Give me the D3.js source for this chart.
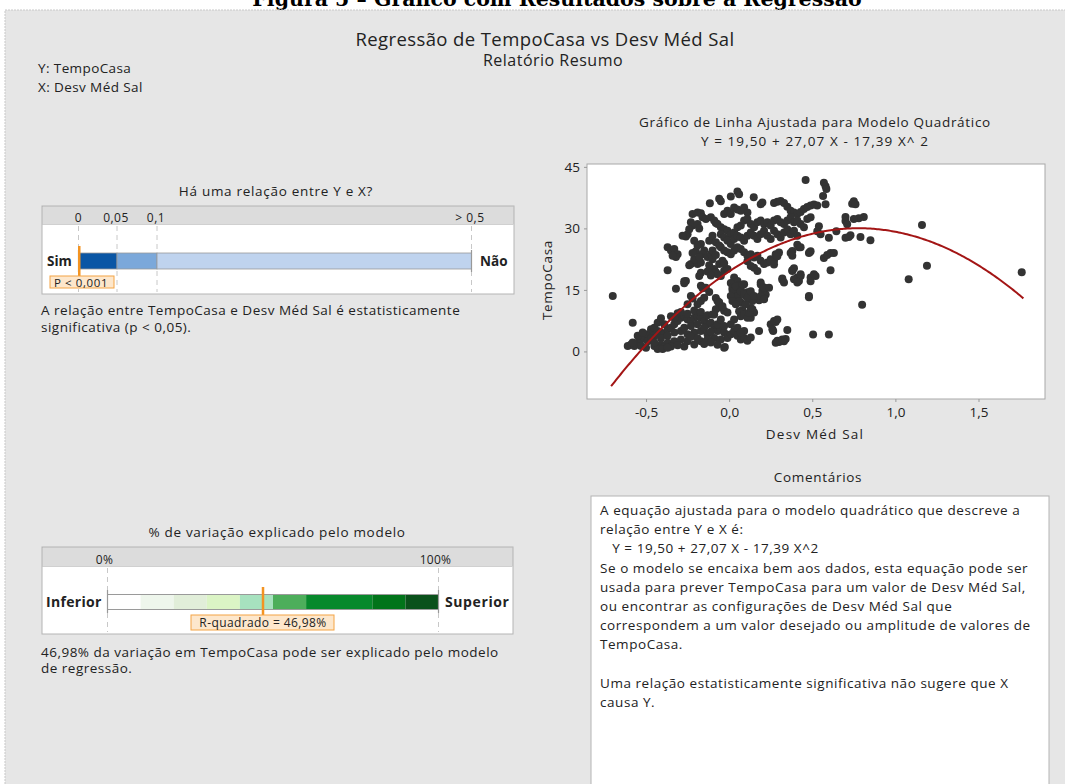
<!DOCTYPE html>
<html><head><meta charset="utf-8">
<script src="https://cdn.jsdelivr.net/npm/d3@7"></script>
<style>
body{margin:0;background:#fff;}
text{font-family:"Open Sans",sans-serif;fill:#222;}
</style></head>
<body><svg id="c" width="1065" height="784"></svg>
<script>
// ---------- data ----------
const caption = "Figura 5 – Gráfico com Resultados sobre a Regressão";
const mainTitle = "Regressão de TempoCasa vs Desv Méd Sal";
const subTitle = "Relatório Resumo";
const varLabels = ["Y: TempoCasa", "X: Desv Méd Sal"];

const pBreaks = [0, 0.05, 0.1, 0.5];
const pTickLabels = ["0", "0,05", "0,1", "> 0,5"];
const pColors = ["#0a56a5", "#7ba8da", "#bfd3ee"];
const pValue = 0.001;
const pLabel = "P < 0,001";
const pText = ["A relação entre TempoCasa e Desv Méd Sal é estatisticamente", "significativa (p < 0,05)."];

const r2Breaks = [0, 10, 20, 30, 40, 50, 60, 80, 90, 100];
const r2Colors = ["#ffffff", "#eef6ec", "#e1eed9", "#dbf4c5", "#a7e2bf", "#4dae5b", "#07892c", "#01741a", "#0a511b"];
const r2TickLabels = ["0%", "100%"];
const r2Value = 46.98;
const r2Label = "R-quadrado =  46,98%";
const r2Text = ["46,98% da variação em TempoCasa pode ser explicado pelo modelo", "de regressão."];

const coef = [19.50, 27.07, -17.39];
const fitRange = [-0.71, 1.77];
const xTicks = [-0.5, 0, 0.5, 1.0, 1.5];
const yTicks = [0, 15, 30, 45];
const xDomain = [-0.855, 1.90];
const yDomain = [-11.6, 45.7];

const pointsX = [];
const pointsY = [];
const pts = [
[-0.70,13.5],[1.76,19.3],[1.16,30.8],[1.19,20.9],[1.08,17.6],[0.80,11.4],[0.85,27.1],[0.79,27.9],[0.81,32.8],[0.78,32.5],[0.75,32.3],[0.74,36.0],[0.75,36.6],[0.76,35.9],[0.70,31.8],[0.70,32.8],[0.71,31.0],[0.70,27.7],[0.73,28.3],[0.72,27.9],[0.645,29.3],[0.60,27.7],[0.61,19.8],[0.57,22.8],[0.59,23.5],[0.61,24.0],[0.63,24.0],[0.60,4.1],[0.505,4.1],[0.48,13.2],[0.52,18.4],[0.49,17.1],[0.485,24.2],[0.46,41.8],[0.57,41.1],[0.58,40.3],[0.585,39.6],[0.565,37.9],[0.58,35.9],[0.53,29.3],[0.55,28.6],[0.54,30.5],[0.35,5.2],[0.33,2.5],[0.30,2.3],[0.28,2.1],[0.265,5.0],[0.28,7.2],[0.18,5.0],[0.32,17.8],[0.38,19.6],[0.41,18.0],[0.43,18.4],[0.38,24.5],[0.42,25.4],[-0.026,1.1],[-0.58,7.0],[-0.37,19.8],[-0.32,15.3],[-0.27,17.1],
[0.05,39.0],[0.06,38.3],[0.01,37.8],[-0.06,37.2],[-0.05,36.6],[-0.116,36.1],[0.148,37.6],[0.19,35.9],[0.20,36.3],[0.27,36.2],[0.29,36.5],[0.31,36.7],[0.33,36.2],[0.35,35.3],[0.37,34.3],[0.39,33.9],[0.41,33.5],[0.43,34.0],[0.45,34.7],[0.47,35.2],[0.49,35.6],[0.51,35.8],[0.53,35.6],
[-0.22,33.5],[-0.19,33.9],[-0.17,33.7],[-0.16,32.7],[-0.14,32.3],[-0.11,32.7],[-0.09,31.9],[-0.08,31.3],
[-0.23,31.5],[-0.22,30.7],[-0.24,29.8],[-0.25,28.6],[-0.26,28.0],[-0.19,31.1],[-0.18,30.0],
[-0.03,33.5],[-0.01,34.3],[0.01,33.5],[0.03,35.1],[0.05,34.6],[0.07,34.3],[0.09,35.1],[0.11,33.9],
[-0.07,31.1],[-0.05,30.3],[-0.03,29.8],[-0.01,29.4],[0.01,28.6],[0.03,29.0],[0.05,30.3],[0.07,30.7],[0.09,31.9],[0.11,32.3],[0.13,31.1],[0.15,30.3],[0.17,31.5],[0.19,31.9],[0.21,31.1],[0.23,31.5],[0.25,30.7],[0.27,31.9],[0.29,32.3],[0.31,31.5],[0.33,31.1],[0.35,31.9],[0.37,32.7],[0.39,31.5],[0.41,31.9],[0.43,31.1],[0.45,30.3],[0.47,32.3],[0.49,32.7],
[-0.05,28.6],[-0.03,27.8],[-0.01,27.0],[0.01,26.2],[0.03,27.4],[0.05,28.2],[0.07,27.8],[0.09,27.0],[0.11,28.2],[0.13,29.0],[0.15,28.2],[0.17,27.4],[0.19,28.6],[0.21,29.4],[0.23,28.2],[0.25,27.4],[0.27,29.4],[0.29,28.6],[0.31,27.8],[0.33,29.0],[0.35,29.8],[0.37,28.6],[0.39,29.4],[0.41,28.2],
[-0.37,25.4],[-0.35,24.6],[-0.33,25.0],[-0.31,23.7],[-0.32,23.0],[-0.34,23.3],[-0.28,28.2],
[-0.17,26.2],[-0.15,24.6],[-0.16,23.7],[-0.13,23.0],[-0.11,23.7],[-0.10,24.6],
[-0.05,25.4],[-0.03,24.6],[-0.01,24.2],[0.01,23.7],[0.03,24.6],[0.05,25.4],[0.07,25.0],[0.09,24.2],[0.11,23.3],[0.13,23.7],[0.15,22.9],[0.17,23.3],[0.19,22.1],[0.21,21.3],[0.23,21.7],[0.25,22.5],[0.27,22.1],[0.28,23.7],
[-0.23,21.3],[-0.19,21.3],[-0.17,21.7],[-0.21,22.5],[-0.24,21.0],
[-0.09,20.1],[-0.08,19.3],[-0.07,18.8],[-0.05,18.4],[-0.03,19.7],[-0.01,20.1],[-0.17,19.2],[-0.18,18.4],[-0.06,21.3],[-0.04,22.1],
[0.03,18.0],[0.05,17.2],[0.06,16.2],[0.04,15.6],[0.02,15.0],[0.07,15.2],[0.09,16.4],[0.11,14.4],[0.10,13.5],[0.12,12.7],[0.08,14.0],[0.05,13.3],
[0.19,16.8],[0.21,15.6],[0.20,14.8],[0.22,13.9],[0.21,12.9],[0.18,12.5],
[-0.26,17.2],[-0.27,16.6],[-0.17,16.0],[-0.16,15.4],[-0.23,13.5],[-0.22,12.9],[-0.25,11.5],[-0.19,11.5],[-0.17,12.3],[-0.15,13.1],
[-0.07,12.3],[-0.06,11.5],[-0.05,10.7],[-0.03,9.9],[-0.01,9.5],[-0.08,10.3],
[0.07,11.9],[0.08,10.1],[0.09,9.1],[0.11,8.6],[0.13,8.2],[0.15,9.5],[0.14,10.3],
[0.25,6.6],[0.27,7.4],[0.26,5.4],[0.29,7.8],[0.29,2.6],[0.31,2.6],[0.32,2.9],[0.34,3.0],
[0.39,17.6],[0.42,17.2],[0.43,18.8],[0.41,16.8],[0.32,17.5],[0.33,16.8],[0.38,19.8],[0.39,20.3],[0.49,18.0],[0.51,18.8],[0.48,13.5],[0.48,24.0],[0.49,24.4],[0.41,26.0],[0.43,25.4],[0.37,24.0],[0.38,23.3],[0.30,24.1],
[-0.61,1.3],[-0.59,1.7],[-0.57,1.3],[-0.55,2.1],[-0.53,2.9],[-0.51,3.3],[-0.49,4.2],[-0.47,5.4],[-0.45,5.8],[-0.43,5.0],[-0.41,4.6],[-0.39,4.2],[-0.37,5.4],[-0.35,5.8],[-0.33,6.6],[-0.31,7.4],[-0.29,8.2],[-0.27,8.6],[-0.25,7.8],[-0.23,7.4],[-0.21,8.2],[-0.19,8.6],[-0.17,8.2],[-0.15,7.4],[-0.13,6.6],[-0.11,7.0],[-0.09,5.8],[-0.07,5.0],[-0.05,5.4],[-0.03,4.6],[-0.01,3.3],[0.01,4.2],[0.03,5.0],[0.05,3.8],[0.07,2.9],[0.09,3.3],
[-0.53,1.3],[-0.49,2.5],[-0.45,3.8],[-0.41,3.3],[-0.37,3.8],[-0.33,4.6],[-0.29,5.0],[-0.25,4.2],[-0.21,4.6],[-0.17,5.0],[-0.13,4.2],[-0.09,3.3],[-0.05,2.9],
[-0.41,1.7],[-0.37,2.1],[-0.33,2.5],[-0.29,2.9],[-0.25,2.5],[-0.21,1.7],[-0.17,2.5],[-0.13,2.9],[-0.45,1.3],[-0.50,0.9],[-0.03,0.9],
[-0.43,0.6],[-0.39,1.0],[-0.35,1.2],[-0.31,1.5],[-0.27,1.2],[-0.23,3.6],[-0.19,3.2],[-0.15,1.8],[-0.11,2.2],[-0.07,1.6],[-0.39,6.6],[-0.43,7.0],[-0.41,8.1],[-0.35,8.6],[-0.31,9.3],[-0.27,5.8],[-0.23,6.2],[-0.19,6.6],[-0.15,5.8],[-0.11,4.8],[-0.07,6.6],[-0.03,6.2],[0.01,6.6],[0.05,5.8],[0.09,5.0],[-0.33,8.2],[-0.29,9.6],[-0.25,9.2],[-0.21,10.0],[-0.17,9.6],[-0.13,8.8],[-0.09,9.0],[-0.05,7.8],[0.03,7.8],[0.07,4.6],[0.11,2.6],[0.13,3.4],[-0.58,2.2],[-0.55,3.8],[-0.52,4.6],[-0.47,3.2],[-0.45,2.2],[-0.40,0.6],[-0.37,0.9],
[0.01,16.7],[0.02,15.5],[0.03,14.7],[0.04,15.9],[0.05,13.5],[0.06,12.3],[0.07,14.7],[0.08,16.3],[0.09,13.9],[0.01,13.5],[0.02,12.3],[0.04,11.5],[0.06,9.8],[0.07,8.6],[0.09,9.0],[0.11,8.2],[0.12,9.4],[0.13,10.6],[0.14,12.3],[0.10,11.5],[0.11,13.1],[0.13,14.7],[0.15,13.5],
[0.11,22.0],[0.13,20.8],[0.15,20.4],[0.17,19.6],[0.19,16.3],[0.21,15.5],[0.24,15.5],[0.19,13.5],[0.21,12.7],[0.25,22.0],[0.27,21.2],[0.29,23.2],
[-0.08,13.0],[-0.06,12.0],[-0.04,11.0],[-0.10,9.0],[-0.12,14.5],[-0.14,15.5],
[-0.12,27.0],[-0.10,28.2],[-0.08,26.6],[-0.06,25.8],[-0.10,22.5],[-0.12,21.0],[-0.08,23.5],[-0.03,21.5],[-0.13,19.5],[-0.11,18.5],
[-0.21,27.0],[-0.19,25.8],[-0.20,24.4],[-0.22,24.0],[-0.18,23.0]
];
pts.forEach(p => { pointsX.push(p[0]); pointsY.push(p[1]); });

const commentLines = [
 "A equação ajustada para o modelo quadrático que descreve a",
 "relação entre Y e X é:",
 "   Y = 19,50 + 27,07 X - 17,39 X^2",
 "Se o modelo se encaixa bem aos dados, esta equação pode ser",
 "usada para prever TempoCasa para um valor de Desv Méd Sal,",
 "ou encontrar as configurações de Desv Méd Sal que",
 "correspondem a um valor desejado ou amplitude de valores de",
 "TempoCasa.",
 "",
 "Uma relação estatisticamente significativa não sugere que X",
 "causa Y."
];

// ---------- drawing ----------
const svg = d3.select("#c");
const fmt = v => d3.format(".1f")(v).replace("−", "-").replace(".", ",");
const body = sel => sel.style("font-size", "13.5px").style("letter-spacing", "0.5px");

// caption (cut at top, as in the reference)
svg.append("text").attr("x", 557).attr("y", 6).attr("text-anchor", "middle")
  .style("font-family", "'DejaVu Serif',serif").style("font-weight", "bold").style("font-size", "20.5px")
  .style("fill", "#000").text(caption);

// gray panel
svg.append("rect").attr("x", 5).attr("y", 10).attr("width", 1070).attr("height", 790)
  .attr("fill", "#e6e6e6").attr("stroke", "#c8c8c8").attr("stroke-dasharray", "2,1");

svg.append("text").attr("x", 545).attr("y", 38).attr("text-anchor", "middle")
  .attr("dominant-baseline", "central").style("font-size", "18.5px").style("letter-spacing", "0.4px").text(mainTitle);
svg.append("text").attr("x", 553).attr("y", 60).attr("text-anchor", "middle")
  .attr("dominant-baseline", "central").style("font-size", "16px").style("letter-spacing", "0.5px").text(subTitle);
svg.selectAll(".vl").data(varLabels).join("text").attr("x", 38).attr("y", (d, i) => 68 + i * 19)
  .attr("dominant-baseline", "central").style("font-size", "13.5px").style("letter-spacing", "0.4px").text(d => d);

// ---------- P-value panel ----------
const pBox = {x: 42, y: 206, w: 472, h: 88, hh: 18};
const gp = svg.append("g");
gp.append("text").attr("x", 276).attr("y", 191).attr("text-anchor", "middle")
  .attr("dominant-baseline", "central").call(body).style("letter-spacing", "0.7px").text("Há uma relação entre Y e X?");
gp.append("rect").attr("x", pBox.x).attr("y", pBox.y).attr("width", pBox.w).attr("height", pBox.h)
  .attr("fill", "#fff").attr("stroke", "#b4b4b4");
gp.append("rect").attr("x", pBox.x + 0.5).attr("y", pBox.y + 0.5).attr("width", pBox.w - 1).attr("height", pBox.hh)
  .attr("fill", "#dcdcdc").attr("stroke", "#b4b4b4").attr("stroke-width", 0.5);
const px = d3.scaleLinear().domain(pBreaks).range([78.5, 117, 157, 471.5]);
gp.selectAll(".pg").data(pBreaks).join("line")
  .attr("x1", d => px(d)).attr("x2", d => px(d)).attr("y1", pBox.y + pBox.hh + 2).attr("y2", pBox.y + pBox.h - 2)
  .attr("stroke", "#c8c8c8").attr("stroke-dasharray", "5,4");
gp.selectAll(".pt").data(pBreaks).join("text")
  .attr("x", (d, i) => i === 3 ? px(d) + 13 : (i === 0 ? px(d) : px(d) - 1)).attr("y", 217.5)
  .attr("text-anchor", (d, i) => i === 3 ? "end" : "middle").attr("dominant-baseline", "central")
  .style("font-size", "12px").style("letter-spacing", "0.5px").text((d, i) => pTickLabels[i]);
const pSegs = d3.pairs(pBreaks);
gp.selectAll(".ps").data(pSegs).join("rect")
  .attr("x", d => px(d[0])).attr("width", d => px(d[1]) - px(d[0])).attr("y", 253).attr("height", 16)
  .attr("fill", (d, i) => pColors[i]).attr("stroke", "#9a9a9a").attr("stroke-width", 0.8);
[px(pBreaks[0]), px(pBreaks[3])].forEach(x => gp.append("line").attr("x1", x).attr("x2", x)
  .attr("y1", 250).attr("y2", 272).attr("stroke", "#999").attr("stroke-width", 1.2));
gp.append("text").attr("x", 47).attr("y", 261).attr("dominant-baseline", "central")
  .style("font-weight", "bold").style("font-size", "13.5px").text("Sim");
gp.append("text").attr("x", 480).attr("y", 261).attr("dominant-baseline", "central")
  .style("font-weight", "bold").style("font-size", "13.5px").text("Não");
gp.append("line").attr("x1", px(pValue)).attr("x2", px(pValue)).attr("y1", 246).attr("y2", 277)
  .attr("stroke", "#f39422").attr("stroke-width", 2.5);
gp.append("rect").attr("x", 50).attr("y", 276).attr("width", 64).attr("height", 12)
  .attr("fill", "#fde7cc").attr("stroke", "#f4a445").attr("stroke-width", 1);
gp.append("text").attr("x", 81).attr("y", 282.3).attr("text-anchor", "middle").attr("dominant-baseline", "central")
  .style("font-size", "11.5px").style("letter-spacing", "0.6px").text(pLabel);
gp.selectAll(".ptx").data(pText).join("text").attr("x", 41).attr("y", (d, i) => 310 + i * 17)
  .attr("dominant-baseline", "central").call(body).text(d => d);

// ---------- R-squared panel ----------
const rBox = {x: 42, y: 547, w: 471, h: 87, hh: 19};
const gr = svg.append("g");
gr.append("text").attr("x", 277).attr("y", 532).attr("text-anchor", "middle")
  .attr("dominant-baseline", "central").call(body).style("letter-spacing", "0.7px").text("% de variação explicado pelo modelo");
gr.append("rect").attr("x", rBox.x).attr("y", rBox.y).attr("width", rBox.w).attr("height", rBox.h)
  .attr("fill", "#fff").attr("stroke", "#b4b4b4");
gr.append("rect").attr("x", rBox.x + 0.5).attr("y", rBox.y + 0.5).attr("width", rBox.w - 1).attr("height", rBox.hh)
  .attr("fill", "#dcdcdc").attr("stroke", "#b4b4b4").attr("stroke-width", 0.5);
const rx = d3.scaleLinear().domain([0, 100]).range([107.5, 438.5]);
gr.selectAll(".rg").data([0, 100]).join("line")
  .attr("x1", d => rx(d)).attr("x2", d => rx(d)).attr("y1", rBox.y + rBox.hh + 2).attr("y2", rBox.y + rBox.h - 2)
  .attr("stroke", "#c8c8c8").attr("stroke-dasharray", "5,4");
gr.selectAll(".rt").data([0, 100]).join("text")
  .attr("x", d => rx(d) - 3).attr("y", 559.5).attr("text-anchor", "middle").attr("dominant-baseline", "central")
  .style("font-size", "12px").style("letter-spacing", "0.3px").text((d, i) => r2TickLabels[i]);
const rSegs = d3.pairs(r2Breaks);
gr.selectAll(".rs").data(rSegs).join("rect")
  .attr("x", d => rx(d[0])).attr("width", d => rx(d[1]) - rx(d[0])).attr("y", 595).attr("height", 14)
  .attr("fill", (d, i) => r2Colors[i]);
gr.append("rect").attr("x", rx(0)).attr("y", 594.5).attr("width", rx(100) - rx(0)).attr("height", 15)
  .attr("fill", "none").attr("stroke", "#9a9a9a").attr("stroke-width", 1);
[rx(0), rx(100)].forEach(x => gr.append("line").attr("x1", x).attr("x2", x)
  .attr("y1", 590).attr("y2", 613).attr("stroke", "#999").attr("stroke-width", 1.2));
gr.append("text").attr("x", 46).attr("y", 601).attr("dominant-baseline", "central")
  .style("font-weight", "bold").style("font-size", "14px").style("letter-spacing", "0.3px").text("Inferior");
gr.append("text").attr("x", 445).attr("y", 601).attr("dominant-baseline", "central")
  .style("font-weight", "bold").style("font-size", "14px").style("letter-spacing", "0.6px").text("Superior");
gr.append("line").attr("x1", rx(r2Value)).attr("x2", rx(r2Value)).attr("y1", 587).attr("y2", 616)
  .attr("stroke", "#f39422").attr("stroke-width", 2.5);
gr.append("rect").attr("x", 191).attr("y", 615).attr("width", 143).attr("height", 15)
  .attr("fill", "#fde7cc").attr("stroke", "#f4a445").attr("stroke-width", 1);
gr.append("text").attr("x", 263).attr("y", 622.8).attr("text-anchor", "middle").attr("dominant-baseline", "central")
  .style("font-size", "12px").style("letter-spacing", "0.4px").text(r2Label);
gr.selectAll(".rtx").data(r2Text).join("text").attr("x", 41).attr("y", (d, i) => 652 + i * 16)
  .attr("dominant-baseline", "central").call(body).text(d => d);

// ---------- scatter ----------
const plot = {l: 587, r: 1045, t: 164, b: 399};
const x = d3.scaleLinear().domain(xDomain).range([plot.l, plot.r]);
const y = d3.scaleLinear().domain(yDomain).range([plot.b, plot.t]);
const gs = svg.append("g");
gs.append("text").attr("x", 815).attr("y", 122).attr("text-anchor", "middle").attr("dominant-baseline", "central")
  .call(body).style("letter-spacing", "0.7px").text("Gráfico de Linha Ajustada para Modelo Quadrático");
gs.append("text").attr("x", 815).attr("y", 141).attr("text-anchor", "middle").attr("dominant-baseline", "central")
  .call(body).style("letter-spacing", "1.1px").text("Y = 19,50 + 27,07 X - 17,39 X^ 2");
gs.append("rect").attr("x", plot.l).attr("y", plot.t).attr("width", plot.r - plot.l).attr("height", plot.b - plot.t)
  .attr("fill", "#fff").attr("stroke", "#a8a8a8");
const ya = gs.append("g").attr("transform", `translate(${plot.l},0)`)
  .call(d3.axisLeft(y).tickValues(yTicks).tickSize(3).tickPadding(4).tickFormat(d3.format("d")));
const xa = gs.append("g").attr("transform", `translate(0,${plot.b})`)
  .call(d3.axisBottom(x).tickValues(xTicks).tickSize(3).tickPadding(5).tickFormat(fmt));
[ya, xa].forEach(a => {
  a.select(".domain").remove();
  a.selectAll("line").attr("stroke", "#999");
  a.selectAll("text").style("font-size", "13.5px").style("font-family", "'Open Sans',sans-serif").attr("fill", "#222");
});
gs.append("text").attr("transform", "translate(547,280) rotate(-90)").attr("text-anchor", "middle")
  .attr("dominant-baseline", "central").call(body).style("letter-spacing", "0.7px").text("TempoCasa");
gs.append("text").attr("x", 815).attr("y", 434).attr("text-anchor", "middle").attr("dominant-baseline", "central")
  .call(body).style("letter-spacing", "1.2px").text("Desv Méd Sal");

gs.selectAll("circle").data(d3.range(pointsX.length)).join("circle")
  .attr("cx", i => x(pointsX[i])).attr("cy", i => y(pointsY[i])).attr("r", 4)
  .attr("fill", "#333333");
const fitX = d3.range(fitRange[0], fitRange[1] + 0.0001, 0.01);
gs.append("path").datum(fitX)
  .attr("d", d3.line().x(d => x(d)).y(d => y(coef[0] + coef[1] * d + coef[2] * d * d)))
  .attr("fill", "none").attr("stroke", "#a31515").attr("stroke-width", 2);

// ---------- comments ----------
const gc = svg.append("g");
gc.append("text").attr("x", 818).attr("y", 477).attr("text-anchor", "middle").attr("dominant-baseline", "central")
  .call(body).style("letter-spacing", "0.7px").text("Comentários");
gc.append("rect").attr("x", 591).attr("y", 496).attr("width", 458).attr("height", 320)
  .attr("fill", "#fff").attr("stroke", "#b4b4b4");
gc.selectAll(".cl").data(commentLines).join("text").attr("x", 600).attr("y", (d, i) => 510 + i * 19.2)
  .attr("dominant-baseline", "central").call(body).style("letter-spacing", "0.55px")
  .attr("xml:space", "preserve").style("white-space", "pre").text(d => d);
</script></body></html>
